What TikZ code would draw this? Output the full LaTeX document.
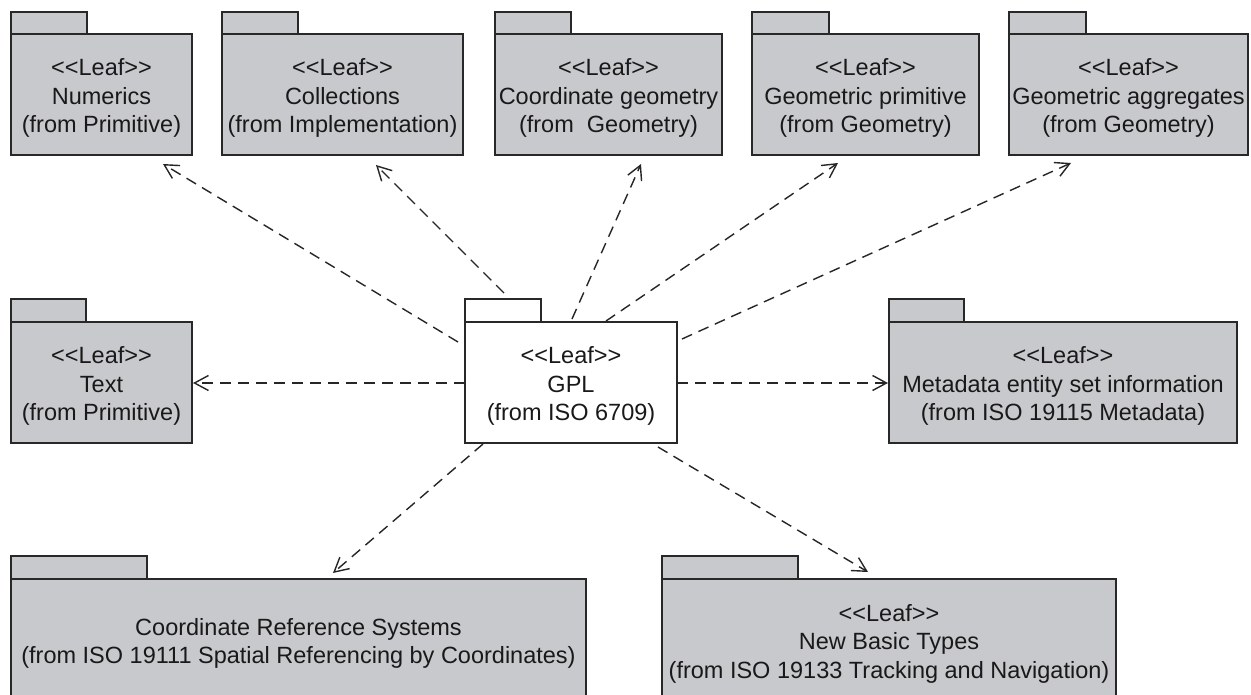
\documentclass[tikz,border=0pt]{standalone}
\usepackage{fontspec}
\setmainfont{Liberation Sans}
\usetikzlibrary{arrows.meta}
\definecolor{pkgfill}{RGB}{200,201,204}
\definecolor{pkgline}{RGB}{40,40,40}
\definecolor{txt}{RGB}{25,25,25}
\newcommand\pkgstrut{\rule{0pt}{24pt}}
\tikzset{
  body/.style={draw=pkgline, line width=1.8pt, fill=pkgfill, inner sep=0pt, align=center,
    text=txt, font=\fontsize{23.5}{28.5}\selectfont},
  whitebody/.style={body, fill=white},
  tabbox/.style={draw=pkgline, line width=1.5pt, fill=pkgfill},
  whitetab/.style={tabbox, fill=white},
  dep/.style={draw=black!85, line width=1.4pt, dash pattern=on 11pt off 7pt,
    -{Straight Barb[length=14pt,width=15pt,line width=1.4pt]}},
}
\begin{document}
\begin{tikzpicture}[x=1pt,y=-1pt]
\useasboundingbox (0,0) rectangle (1251,695);
\clip (0,0) rectangle (1251,695);
\fill[white] (0,0) rectangle (1251,695);

% tabs
\draw[tabbox] (11,12) rectangle (87,34);
\draw[tabbox] (222,12) rectangle (298,34);
\draw[tabbox] (495,12) rectangle (571,34);
\draw[tabbox] (752,12) rectangle (829,34);
\draw[tabbox] (1009,12) rectangle (1086,34);
\draw[tabbox] (11,299) rectangle (86,322);
\draw[whitetab] (465,299) rectangle (541,322);
\draw[tabbox] (889,299) rectangle (964,322);
\draw[tabbox] (11,556) rectangle (147,579);
\draw[tabbox] (662,556) rectangle (798,579);

% bodies
\node[body, minimum width=181pt, minimum height=121pt] (numerics) at (101.5,94.5)
  {\pkgstrut<{}<Leaf>{}>\\Numerics\\(from Primitive)};
\node[body, minimum width=241pt, minimum height=121pt] (collections) at (342.5,94.5)
  {\pkgstrut<{}<Leaf>{}>\\Collections\\(from Implementation)};
\node[body, minimum width=227pt, minimum height=121pt] (coordgeom) at (608.5,94.5)
  {\pkgstrut<{}<Leaf>{}>\\Coordinate geometry\\(from\ \ Geometry)};
\node[body, minimum width=227pt, minimum height=121pt] (geomprim) at (865.5,94.5)
  {\pkgstrut<{}<Leaf>{}>\\Geometric primitive\\(from Geometry)};
\node[body, minimum width=239pt, minimum height=121pt] (geomagg) at (1128.5,94.5)
  {\pkgstrut<{}<Leaf>{}>\\Geometric aggregates\\(from Geometry)};
\node[body, minimum width=181pt, minimum height=121pt] (text) at (101.5,382.5)
  {\pkgstrut<{}<Leaf>{}>\\Text\\(from Primitive)};
\node[whitebody, minimum width=212pt, minimum height=121pt] (gpl) at (571,382.5)
  {\pkgstrut<{}<Leaf>{}>\\GPL\\(from ISO 6709)};
\node[body, minimum width=348pt, minimum height=121pt] (metadata) at (1063,382.5)
  {\pkgstrut<{}<Leaf>{}>\\Metadata entity set information\\(from ISO 19115 Metadata)};
\node[body, minimum width=575pt, minimum height=122pt] (crs) at (298.5,640)
  {\pkgstrut Coordinate Reference Systems\\(from ISO 19111 Spatial Referencing by Coordinates)};
\node[body, minimum width=454pt, minimum height=122pt] (nbt) at (889,640)
  {\pkgstrut<{}<Leaf>{}>\\New Basic Types\\(from ISO 19133 Tracking and Navigation)};

% connector end points
\coordinate (s1) at (458,342);  \coordinate (t1) at (163,164);
\coordinate (s2) at (504,293);  \coordinate (t2) at (376,165);
\coordinate (s3) at (572,319);  \coordinate (t3) at (641,164);
\coordinate (s4) at (606,321);  \coordinate (t4) at (838,163);
\coordinate (s5) at (682,339);  \coordinate (t5) at (1071,163);
\coordinate (s6) at (465,383);  \coordinate (t6) at (193,383);
\coordinate (s7) at (677,383);  \coordinate (t7) at (888,383);
\coordinate (s8) at (483,444);  \coordinate (t8) at (333,573);
\coordinate (s9) at (658,447);  \coordinate (t9) at (868,572);

\draw[dep] (s1) -- (t1);
\draw[dep] (s2) -- (t2);
\draw[dep] (s3) -- (t3);
\draw[dep] (s4) -- (t4);
\draw[dep] (s5) -- (t5);
\draw[dep] (s6) -- (t6);
\draw[dep] (s7) -- (t7);
\draw[dep] (s8) -- (t8);
\draw[dep] (s9) -- (t9);
\end{tikzpicture}
\end{document}
